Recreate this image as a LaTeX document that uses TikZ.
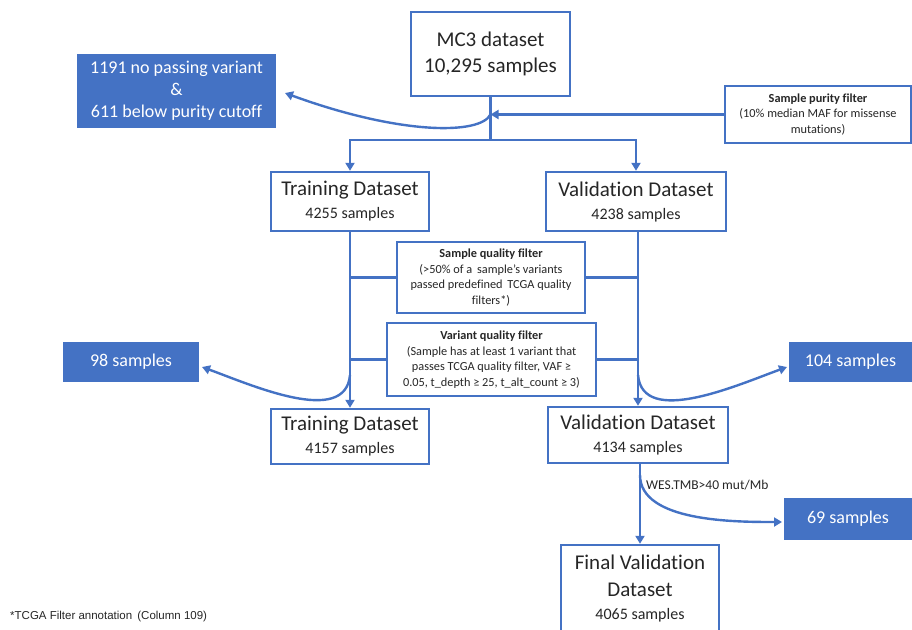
\documentclass[tikz,border=0pt]{standalone}
\usepackage{fontspec}
\setmainfont{Carlito}[Ligatures=NoCommon]
\newfontfamily\arialfont{Liberation Sans}
\usetikzlibrary{arrows.meta, positioning, calc}
\definecolor{flowblue}{HTML}{4472C4}
\tikzset{
    dbox/.style={draw=flowblue, line width=2.4pt, fill=white, align=center, text=black!85, inner sep=0pt, font=\fontsize{21}{23}\selectfont},
    fbox/.style={dbox, line width=2pt, font=\fontsize{12.3}{15.5}\selectfont},
    lostbox/.style={fill=flowblue, text=white, align=center, inner sep=0pt, font=\fontsize{18}{22}\selectfont},
    flow/.style={draw=flowblue, line width=2.4pt},
    arr/.style={-{Triangle[length=8pt, width=9pt]}}
}
\newcommand{\counttxt}[1]{{\fontsize{16}{19}\selectfont #1}}

\begin{document}
\begin{tikzpicture}[x=1pt, y=-1pt]
    \useasboundingbox (0,0) rectangle (912,629);

    % Dataset di partenza e filtro di purezza
    \node[dbox, minimum width=159, minimum height=84, font=\fontsize{21}{26}\selectfont] (mc3) at (490.5,54) {MC3 dataset\\10,295 samples};
    \node[lostbox, minimum width=199, minimum height=74] (lostA) at (176.5,91) {1191 no passing variant\\\&\\611 below purity cutoff};
    \node[fbox, minimum width=186, minimum height=57] (purity) at (818,114.5) {\textbf{Sample purity filter}\\(10\% median MAF for missense\\mutations)};

    % Divisione training / validation
    \node[dbox, minimum width=158, minimum height=59] (trainA) at (350,201.5) {Training Dataset\\\counttxt{4255 samples}};
    \node[dbox, minimum width=180, minimum height=59] (validA) at (636,201.5) {Validation Dataset\\\counttxt{4238 samples}};

    % Filtri di qualita
    \node[fbox, minimum width=188, minimum height=71] (sqf) at (491,277.5) {\textbf{Sample quality filter}\\(>50\% of a\, sample's variants\\passed predefined\, TCGA quality\\filters*)};
    \node[fbox, minimum width=209, minimum height=73] (vqf) at (491.5,359.5) {\textbf{Variant quality filter}\\(Sample has at least 1 variant that\\passes TCGA quality filter, VAF ≥\\0.05, t\_depth ≥ 25, t\_alt\_count ≥ 3)};

    \node[dbox, minimum width=158, minimum height=55] (trainB) at (350,436.5) {Training Dataset\\\counttxt{4157 samples}};
    \node[dbox, minimum width=180, minimum height=56] (validB) at (638,435) {Validation Dataset\\\counttxt{4134 samples}};
    \node[lostbox, minimum width=136, minimum height=40] (lostB) at (131,362) {98 samples};
    \node[lostbox, minimum width=123, minimum height=40] (lostC) at (850.5,362) {104 samples};

    % Filtro TMB e dataset finale
    \node[dbox, minimum width=158, minimum height=86, font=\fontsize{21}{27}\selectfont] (final) at (640,588) {Final Validation\\Dataset\\[-4pt]\counttxt{4065 samples}};
    \node[lostbox, minimum width=128, minimum height=42] (lostD) at (848,519) {69 samples};
    \node[anchor=west, font=\fontsize{13.5}{15}\selectfont, text=black!85, inner sep=0pt] (tmb) at (646,485) {WES.TMB>40 mut/Mb};
    \node[anchor=west, font=\arialfont\fontsize{11.5}{13}\selectfont, text=black!85, inner sep=0pt] (note) at (10,617) {*TCGA Filter annotation\, (Column 109)};

    % Connettori
    \coordinate (split) at (mc3.south |- 0,140);
    \coordinate (pjoin) at (mc3.south |- purity.west);
    \coordinate (tipA) at (285,93);
    \draw[flow] (mc3.south) -- (split);
    \draw[flow, arr] (split) -| (trainA.north);
    \draw[flow, arr] (split) -| (validA.north);
    \draw[flow, arr] (purity.west) -- (pjoin);
    \draw[flow, arr] (pjoin) .. controls (480,135) and (400,135) .. (tipA);

    \draw[flow, arr] (trainA.south) -- (trainB.north);
    \draw[flow, arr] (validA.south -| validB.north) -- (validB.north);
    \draw[flow] (sqf.west) -- (sqf.west -| trainA.south);
    \draw[flow] (sqf.east) -- (sqf.east -| validB.north);
    \draw[flow] (vqf.west) -- (vqf.west -| trainA.south);
    \draw[flow] (vqf.east) -- (vqf.east -| validB.north);

    \coordinate (bB) at (trainA.south |- 0,375);
    \coordinate (tipB) at (202,367);
    \draw[flow, arr] (bB) to[out=-95, in=-20, looseness=0.9] (tipB);
    \coordinate (bC) at (validB.north |- 0,375);
    \coordinate (tipC) at (787,367);
    \draw[flow, arr] (bC) to[out=-85, in=200, looseness=0.9] (tipC);

    \draw[flow, arr] (validB.south -| final.north) -- (final.north);
    \coordinate (bD) at (final.north |- 0,475);
    \coordinate (tipD) at (782,522);
    \draw[flow, arr] (bD) to[out=-90, in=180, looseness=0.8] (tipD);
\end{tikzpicture}
\end{document}
